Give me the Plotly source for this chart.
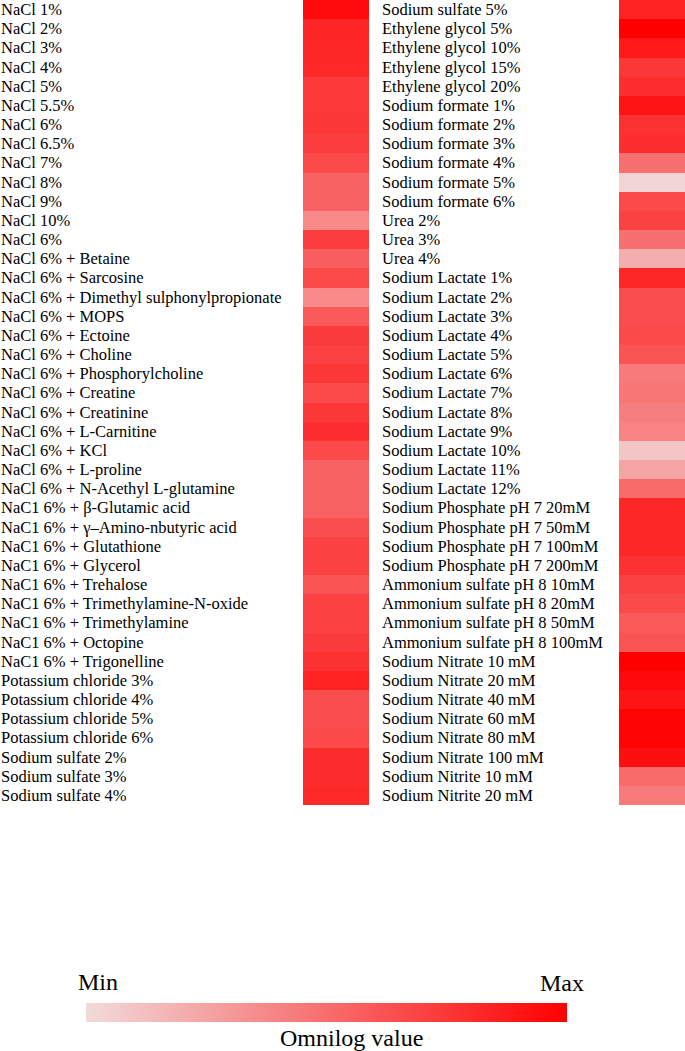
import plotly.graph_objects as go

left_labels = [
    "NaCl 1%", "NaCl 2%", "NaCl 3%", "NaCl 4%", "NaCl 5%", "NaCl 5.5%", "NaCl 6%",
    "NaCl 6.5%", "NaCl 7%", "NaCl 8%", "NaCl 9%", "NaCl 10%", "NaCl 6%",
    "NaCl 6% + Betaine", "NaCl 6% + Sarcosine", "NaCl 6% + Dimethyl sulphonylpropionate",
    "NaCl 6% + MOPS", "NaCl 6% + Ectoine", "NaCl 6% + Choline", "NaCl 6% + Phosphorylcholine",
    "NaCl 6% + Creatine", "NaCl 6% + Creatinine", "NaCl 6% + L-Carnitine", "NaCl 6% + KCl",
    "NaCl 6% + L-proline", "NaCl 6% + N-Acethyl L-glutamine", "NaC1 6% + β-Glutamic acid",
    "NaC1 6% + γ–Amino-nbutyric acid", "NaC1 6% + Glutathione", "NaC1 6% + Glycerol",
    "NaC1 6% + Trehalose", "NaC1 6% + Trimethylamine-N-oxide", "NaC1 6% + Trimethylamine",
    "NaC1 6% + Octopine", "NaC1 6% + Trigonelline", "Potassium chloride 3%",
    "Potassium chloride 4%", "Potassium chloride 5%", "Potassium chloride 6%",
    "Sodium sulfate 2%", "Sodium sulfate 3%", "Sodium sulfate 4%",
]
left_values = [
    0.95, 0.83, 0.82, 0.81, 0.74, 0.74, 0.75, 0.72, 0.66, 0.55, 0.55, 0.37, 0.72,
    0.57, 0.66, 0.37, 0.59, 0.73, 0.70, 0.75, 0.66, 0.75, 0.79, 0.66, 0.55, 0.55,
    0.55, 0.64, 0.70, 0.70, 0.62, 0.70, 0.70, 0.73, 0.77, 0.84, 0.64, 0.64, 0.66,
    0.80, 0.80, 0.81,
]

right_labels = [
    "Sodium sulfate 5%", "Ethylene glycol 5%", "Ethylene glycol 10%", "Ethylene glycol 15%",
    "Ethylene glycol 20%", "Sodium formate 1%", "Sodium formate 2%", "Sodium formate 3%",
    "Sodium formate 4%", "Sodium formate 5%", "Sodium formate 6%", "Urea 2%", "Urea 3%",
    "Urea 4%", "Sodium Lactate 1%", "Sodium Lactate 2%", "Sodium Lactate 3%",
    "Sodium Lactate 4%", "Sodium Lactate 5%", "Sodium Lactate 6%", "Sodium Lactate 7%",
    "Sodium Lactate 8%", "Sodium Lactate 9%", "Sodium Lactate 10%", "Sodium Lactate 11%",
    "Sodium Lactate 12%", "Sodium Phosphate pH 7 20mM", "Sodium Phosphate pH 7 50mM",
    "Sodium Phosphate pH 7 100mM", "Sodium Phosphate pH 7 200mM",
    "Ammonium sulfate pH 8 10mM", "Ammonium sulfate pH 8 20mM",
    "Ammonium sulfate pH 8 50mM", "Ammonium sulfate pH 8 100mM",
    "Sodium Nitrate 10 mM", "Sodium Nitrate 20 mM", "Sodium Nitrate 40 mM",
    "Sodium Nitrate 60 mM", "Sodium Nitrate 80 mM", "Sodium Nitrate 100 mM",
    "Sodium Nitrite 10 mM", "Sodium Nitrite 20 mM",
]
right_values = [
    0.84, 1.00, 0.89, 0.75, 0.79, 0.91, 0.77, 0.79, 0.49, 0.02, 0.66, 0.70, 0.49, 0.20,
    0.82, 0.64, 0.64, 0.66, 0.62, 0.44, 0.46, 0.42, 0.40, 0.09, 0.25, 0.51, 0.82, 0.82,
    0.82, 0.77, 0.70, 0.66, 0.59, 0.62, 1.00, 0.96, 0.91, 0.98, 0.98, 0.93, 0.51, 0.44,
]

colorscale = [[0.0, "#f2dada"], [1.0, "#ff0000"]]
FONT = "Liberation Serif"
W, H = 685, 1051
LABEL_SIZE = 16.5

fig = go.Figure()
rows_l = list(range(len(left_labels)))
rows_r = list(range(len(right_labels)))

fig.add_trace(go.Heatmap(
    z=[[v] for v in left_values], x=[0], y=rows_l, xaxis="x", yaxis="y",
    colorscale=colorscale, zmin=0, zmax=1, showscale=False, hoverinfo="skip",
))
fig.add_trace(go.Heatmap(
    z=[[v] for v in right_values], x=[0], y=rows_r, xaxis="x2", yaxis="y2",
    colorscale=colorscale, zmin=0, zmax=1, hoverinfo="skip",
    colorbar=dict(
        orientation="h", lenmode="pixels", len=481, thickness=19,
        x=326.5 / W, xanchor="center", y=(H - 1022) / H, yanchor="bottom",
        xpad=0, ypad=0, outlinewidth=0, showticklabels=False, ticks="",
    ),
))

ydom = [1 - 805 / H, 1]
axis_common = dict(showgrid=False, zeroline=False, showticklabels=False, ticks="", showline=False)
fig.update_layout(
    width=W, height=H, margin=dict(l=0, r=0, t=0, b=0),
    paper_bgcolor="white", plot_bgcolor="white",
    font=dict(family=FONT, size=16, color="black"),
    xaxis=dict(domain=[303 / W, 369 / W], **axis_common),
    xaxis2=dict(domain=[619 / W, 1.0], **axis_common),
    yaxis=dict(domain=ydom, range=[len(left_labels) - 0.5, -0.5], **axis_common),
    yaxis2=dict(domain=ydom, range=[len(right_labels) - 0.5, -0.5], anchor="x2", **axis_common),
)

annotations = []
for i, lab in enumerate(left_labels):
    annotations.append(dict(text=lab, xref="paper", x=0, xanchor="left", yref="y", y=i,
                            yanchor="middle", showarrow=False, font=dict(size=LABEL_SIZE),
                            borderpad=0))
for i, lab in enumerate(right_labels):
    annotations.append(dict(text=lab, xref="paper", x=381 / W, xanchor="left", yref="y2", y=i,
                            yanchor="middle", showarrow=False, font=dict(size=LABEL_SIZE),
                            borderpad=0))
annotations += [
    dict(text="Min", xref="paper", yref="paper", x=98 / W, y=1 - 982 / H, xanchor="center",
         yanchor="middle", showarrow=False, font=dict(size=24), borderpad=0),
    dict(text="Max", xref="paper", yref="paper", x=562 / W, y=1 - 983 / H, xanchor="center",
         yanchor="middle", showarrow=False, font=dict(size=24), borderpad=0),
    dict(text="Omnilog value", xref="paper", yref="paper", x=351 / W, y=1 - 1038 / H,
         xanchor="center", yanchor="middle", showarrow=False, font=dict(size=24), borderpad=0),
]
fig.update_layout(annotations=annotations)

fig.write_html(
    "out.html",
    config={"displayModeBar": False, "staticPlot": True},
    post_script="document.body.style.margin='0px';document.body.style.padding='0px';",
)
